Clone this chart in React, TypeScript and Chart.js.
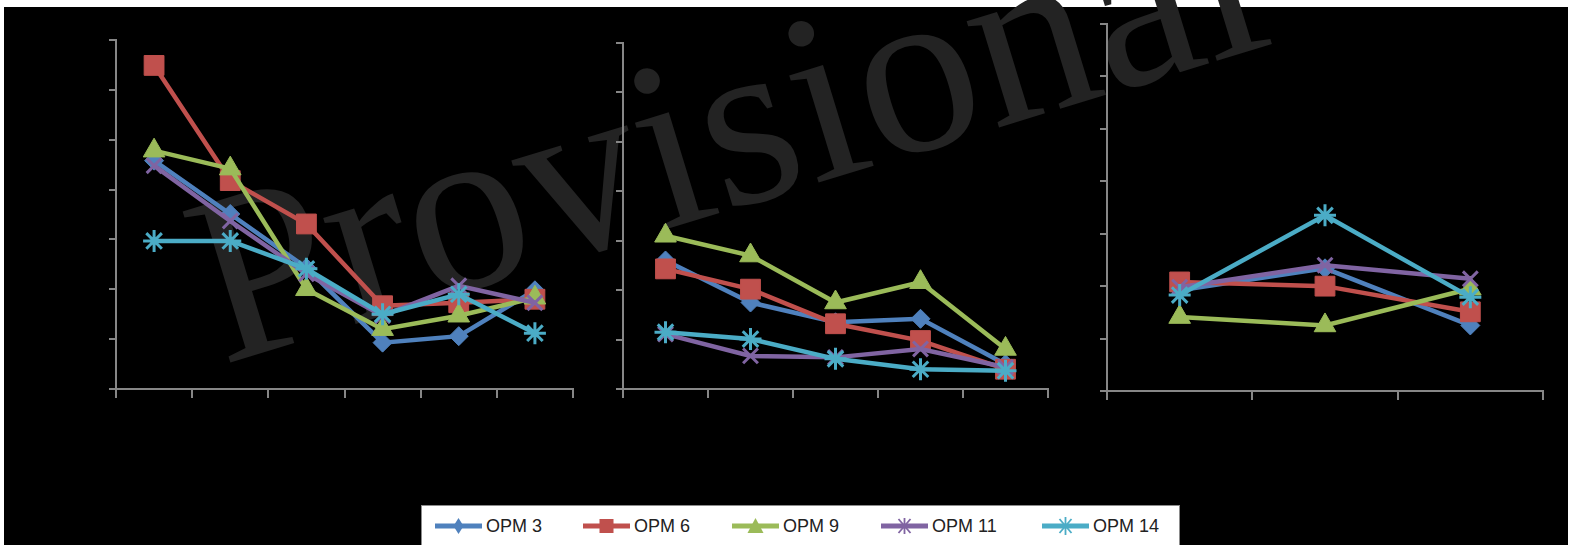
import React, { useEffect, useRef } from "react";
import { Chart, registerables } from "chart.js";

Chart.register(...registerables);

// ---------- data ----------
const seriesNames = ["OPM 3", "OPM 6", "OPM 9", "OPM 11", "OPM 14"];
const seriesColors = ["#4F81BD", "#C0504D", "#9BBB59", "#8064A2", "#4BACC6"];
const pointStyles = ["rectRot", "rect", "triangle", "crossRot", "star"];
const pointRadii = [9.5, 14, 12.5, 10.5, 11];

const yMin = 0;
const yMax = 7;
const yStep = 1;

const categoriesA = ["1", "2", "3", "4", "5", "6"];
const opm3A = [4.58, 3.51, 2.43, 0.93, 1.06, 1.98];
const opm6A = [6.49, 4.18, 3.31, 1.67, 1.73, 1.8];
const opm9A = [4.78, 4.42, 2.0, 1.2, 1.47, 1.83];
const opm11A = [4.48, 3.37, 2.31, 1.47, 2.07, 1.73];
const opm14A = [2.97, 2.97, 2.41, 1.5, 1.9, 1.12];

const categoriesB = ["1", "2", "3", "4", "5"];
const opm3B = [2.6, 1.75, 1.35, 1.42, 0.5];
const opm6B = [2.43, 2.02, 1.32, 0.98, 0.4];
const opm9B = [3.1, 2.7, 1.75, 2.16, 0.81];
const opm11B = [1.11, 0.67, 0.64, 0.81, 0.44];
const opm14B = [1.15, 1.01, 0.61, 0.4, 0.37];

const categoriesC = ["1", "2", "3"];
const opm3C = [1.92, 2.34, 1.25];
const opm6C = [2.08, 2.0, 1.51];
const opm9C = [1.41, 1.25, 1.95];
const opm11C = [1.98, 2.4, 2.14];
const opm14C = [1.83, 3.35, 1.79];

const AXIS = "#868686";

type PanelProps = {
  left: number;
  top: number;
  width: number;
  height: number;
  labels: string[];
  series: number[][];
};

function Panel({ left, top, width, height, labels, series }: PanelProps) {
  const ref = useRef<HTMLCanvasElement | null>(null);
  useEffect(() => {
    if (!ref.current) return;
    const datasets = series.map((vals, i) => ({
      label: seriesNames[i],
      data: vals,
      borderColor: seriesColors[i],
      backgroundColor: seriesColors[i],
      borderWidth: 4.5,
      pointStyle: pointStyles[i] as any,
      pointRadius: pointRadii[i],
      pointBackgroundColor: seriesColors[i],
      pointBorderColor: seriesColors[i],
      pointBorderWidth: i >= 3 ? 3 : 1,
      tension: 0,
      fill: false,
      clip: false as any,
      order: 5 - i,
    }));
    const chart = new Chart(ref.current, {
      type: "line",
      data: { labels, datasets },
      options: {
        animation: false,
        responsive: false,
        devicePixelRatio: 1,
        layout: { padding: { left: 10, top: 20, right: 30, bottom: 10 } },
        plugins: { legend: { display: false }, tooltip: { enabled: false } },
        scales: {
          x: {
            type: "category",
            offset: true,
            grid: {
              offset: true,
              drawOnChartArea: false,
              drawTicks: true,
              tickLength: 9,
              color: AXIS,
              lineWidth: 2,
            },
            border: { display: true, color: AXIS, width: 2 },
            ticks: { display: false },
            afterFit: (s: any) => {
              s.height = 20;
            },
          },
          y: {
            min: yMin,
            max: yMax,
            ticks: { display: false, stepSize: yStep },
            grid: {
              drawOnChartArea: false,
              drawTicks: true,
              tickLength: 7,
              color: AXIS,
              lineWidth: 2,
            },
            border: { display: true, color: AXIS, width: 2 },
            afterFit: (s: any) => {
              s.width = 20;
            },
          },
        },
      } as any,
    });
    return () => chart.destroy();
  }, []);
  return (
    <canvas
      ref={ref}
      width={width + 60}
      height={height + 50}
      style={{
        position: "absolute",
        left: left - 30,
        top: top - 20,
        width: width + 60,
        height: height + 50,
      }}
    />
  );
}

function LegendIcon({ idx }: { idx: number }) {
  const c = seriesColors[idx];
  const cx = 23.5;
  const cy = 10;
  let marker: React.ReactNode = null;
  if (idx === 0) {
    marker = <polygon points={`${cx},2 ${cx + 5},${cy} ${cx},18 ${cx - 5},${cy}`} fill={c} />;
  } else if (idx === 1) {
    marker = <rect x={cx - 7} y={cy - 7} width={14} height={14} fill={c} />;
  } else if (idx === 2) {
    marker = <polygon points={`${cx},2 ${cx + 8},17 ${cx - 8},17`} fill={c} />;
  } else if (idx === 3) {
    marker = (
      <g stroke={c} strokeWidth={1.8}>
        <line x1={cx - 6} y1={cy - 7} x2={cx + 6} y2={cy + 7} />
        <line x1={cx + 6} y1={cy - 7} x2={cx - 6} y2={cy + 7} />
        <line x1={cx} y1={cy - 8} x2={cx} y2={cy + 8} />
      </g>
    );
  } else {
    marker = (
      <g stroke={c} strokeWidth={1.8}>
        <line x1={cx - 6} y1={cy - 7} x2={cx + 6} y2={cy + 7} />
        <line x1={cx + 6} y1={cy - 7} x2={cx - 6} y2={cy + 7} />
        <line x1={cx} y1={cy - 9} x2={cx} y2={cy + 9} />
      </g>
    );
  }
  return (
    <svg width={47} height={20} style={{ display: "block" }}>
      <line x1={0} y1={cy} x2={47} y2={cy} stroke={c} strokeWidth={5} />
      {marker}
    </svg>
  );
}

const legendX = [435, 583, 732, 881, 1042];

export default function App() {
  return (
    <div
      style={{
        position: "absolute",
        left: 0,
        top: 0,
        width: 1571,
        height: 545,
        background: "#ffffff",
        overflow: "hidden",
      }}
    >
      <div
        style={{
          position: "absolute",
          left: 4,
          top: 7,
          width: 1564,
          height: 540,
          background: "#000000",
        }}
      />
      <div
        style={{
          position: "absolute",
          left: 222,
          top: 163,
          height: 240,
          lineHeight: "240px",
          fontSize: 242,
          fontFamily: '"Liberation Serif", "Times New Roman", serif',
          color: "#232323",
          whiteSpace: "nowrap",
          transformOrigin: "0px 201px",
          transform: "rotate(-17deg)",
        }}
      >
        Provisional
      </div>
      <Panel
        left={116}
        top={40}
        width={457}
        height={349}
        labels={categoriesA}
        series={[opm3A, opm6A, opm9A, opm11A, opm14A]}
      />
      <Panel
        left={623}
        top={43}
        width={425}
        height={346}
        labels={categoriesB}
        series={[opm3B, opm6B, opm9B, opm11B, opm14B]}
      />
      <Panel
        left={1107}
        top={24}
        width={436}
        height={367}
        labels={categoriesC}
        series={[opm3C, opm6C, opm9C, opm11C, opm14C]}
      />
      <div
        style={{
          position: "absolute",
          left: 421,
          top: 505,
          width: 757,
          height: 60,
          background: "#ffffff",
          border: "1px solid #8c8c8c",
        }}
      />
      {seriesNames.map((name, i) => (
        <div
          key={name}
          style={{
            position: "absolute",
            left: legendX[i],
            top: 516,
            height: 20,
            display: "flex",
            alignItems: "center",
            gap: 4,
          }}
        >
          <LegendIcon idx={i} />
          <span
            style={{
              fontFamily: '"Liberation Sans", Arial, sans-serif',
              fontSize: 18,
              color: "#222222",
              lineHeight: "20px",
              whiteSpace: "nowrap",
            }}
          >
            {name}
          </span>
        </div>
      ))}
    </div>
  );
}
